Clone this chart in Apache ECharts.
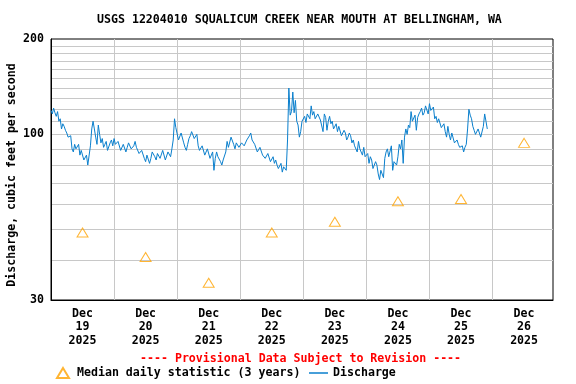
<!DOCTYPE html>
<html><head><meta charset="utf-8">
<script src="https://cdn.jsdelivr.net/npm/echarts@6/dist/echarts.min.js"></script>
<style>html,body{margin:0;padding:0;background:#fff}#c{width:576px;height:384px}</style>
</head><body><div id="c"></div>
<script>
const titleText = 'USGS 12204010 SQUALICUM CREEK NEAR MOUTH AT BELLINGHAM, WA';
const yAxisName = 'Discharge, cubic feet per second';
const provisionalText = '---- Provisional Data Subject to Revision ----';
const medianName = 'Median daily statistic (3 years)';
const dischargeName = 'Discharge';

// Discharge readings every 30 minutes starting 2025-12-19 00:00 (one row per 6 hours)
const dischargeStart = '2025-12-19T00:00:00Z';
const dischargeStepMinutes = 30;
const dischargeValues = [
  // Dec 19
  119,116,121,117,114,118,110,112,104,108,106,103,
  101,98,97,99,90,88,93,90,91,93,86,89,
  88,83,83,86,80,79,92,104,110,104,98,93,
  107,100,94,97,91,93,95,89,90,94,96,92,
  // Dec 20
  97,93,92,95,95,89,90,93,93,88,91,94,
  94,90,89,92,95,91,90,87,86,89,88,84,
  82,86,87,81,84,88,89,85,83,87,88,84,
  85,89,89,83,84,88,87,85,90,96,112,105,
  // Dec 21
  104,96,97,101,100,94,91,89,93,97,99,102,
  102,97,98,100,92,89,88,92,91,86,87,90,
  90,84,85,88,77,84,88,85,86,82,80,83,
  82,88,95,91,92,98,97,93,90,94,95,91,
  // Dec 22
  91,94,95,92,93,96,96,99,101,96,97,93,
  92,88,89,91,91,86,87,84,84,87,87,82,
  83,85,81,83,80,78,78,81,76,79,80,77,
  96,140,115,118,136,117,128,110,107,98,102,110,
  // Dec 23
  111,114,109,116,116,112,123,115,118,112,113,116,
  115,111,111,102,116,113,103,110,114,108,110,104,
  105,108,102,106,106,99,99,103,101,96,98,101,
  99,94,96,92,92,88,95,90,89,86,91,85,
  // Dec 24
  84,87,81,85,83,78,77,82,80,75,72,77,
  78,73,84,88,90,85,86,92,77,82,82,80,
  85,93,90,96,81,98,104,100,107,105,118,110,
  110,115,103,113,116,118,121,115,117,123,122,116,
  // Dec 25
  125,119,118,122,112,114,109,112,111,105,105,108,
  102,98,106,100,96,101,100,94,94,96,93,91,
  90,92,88,91,93,104,120,115,112,106,103,100,
  100,104,103,98,99,106,116,110,104
];

const medianDays = ['2025-12-19','2025-12-20','2025-12-21','2025-12-22','2025-12-23','2025-12-24','2025-12-25','2025-12-26'];
const medianValues = [49, 41, 34, 49, 53, 61.5, 62.5, 94];

const yLabelValues = [30, 100, 200];
const yGridValues = [40,50,60,70,80,90,100,110,120,130,140,150,160,170,180,190];
const xGridDays = ['2025-12-20','2025-12-21','2025-12-22','2025-12-23','2025-12-24','2025-12-25','2025-12-26'];
const xMinDay = '2025-12-19T00:00:00Z';
const xMaxTime = '2025-12-26T23:00:00Z';

const MONTHS = ['Jan','Feb','Mar','Apr','May','Jun','Jul','Aug','Sep','Oct','Nov','Dec'];
const t0 = Date.parse(dischargeStart);
const dischargeData = dischargeValues.map((v, i) => [t0 + i * dischargeStepMinutes * 60000, v]);
const noon = d => Date.parse(d + 'T12:00:00Z');
const midnight = d => Date.parse(d + 'T00:00:00Z');
const medianData = medianDays.map((d, i) => [noon(d), medianValues[i]]);

const FONT = '"DejaVu Sans Mono", "Liberation Mono", monospace';
const BLUE = '#0a7fcd';

const chart = echarts.init(document.getElementById('c'), null, {renderer: 'canvas'});
chart.setOption({
  animation: false,
  backgroundColor: '#fff',
  textStyle: {fontFamily: FONT},
  title: [
    {text: titleText, left: 92, top: 9,
     textStyle: {fontFamily: FONT, fontWeight: 'bold', fontSize: 11.6, color: '#000'}},
    {text: provisionalText, left: 135, top: 348,
     textStyle: {fontFamily: FONT, fontWeight: 'bold', fontSize: 11.6, color: '#ff0000'}}
  ],
  legend: [
    {data: [medianName], left: 51, top: 362, itemWidth: 12, itemHeight: 10, itemGap: 6,
     textStyle: {fontFamily: FONT, fontWeight: 'bold', fontSize: 11.6, color: '#000', padding: [0, 0, 0, 3]}},
    {data: [{name: dischargeName, icon: 'rect', itemStyle: {color: BLUE}}], left: 304, top: 362, itemWidth: 19, itemHeight: 1.5, itemGap: 6,
     textStyle: {fontFamily: FONT, fontWeight: 'bold', fontSize: 11.6, color: '#000'}}
  ],
  grid: {left: 51, top: 39, width: 502, height: 261, show: true, borderColor: '#000', borderWidth: 1,
         containLabel: false, outerBoundsMode: 'none'},
  xAxis: {
    type: 'value',
    min: Date.parse(xMinDay),
    max: Date.parse(xMaxTime),
    axisLine: {show: true, lineStyle: {color: '#000', width: 1}},
    axisTick: {show: false, customValues: xGridDays.map(midnight)},
    splitLine: {show: true, lineStyle: {color: '#c8c8c8', width: 1}},
    axisLabel: {
      customValues: medianDays.map(noon),
      margin: 7,
      fontFamily: FONT, fontWeight: 'bold', fontSize: 11.6, color: '#000', lineHeight: 13.5,
      formatter: v => { const d = new Date(v); return MONTHS[d.getUTCMonth()] + '\n' + d.getUTCDate() + '\n' + d.getUTCFullYear(); }
    }
  },
  yAxis: {
    type: 'log', logBase: 10, min: 30, max: 200,
    name: yAxisName, nameLocation: 'middle', nameRotate: 90, nameGap: 33, nameMoveOverlap: false,
    nameTextStyle: {fontFamily: FONT, fontWeight: 'bold', fontSize: 11.6, color: '#000', padding: [0, 11, 0, 0]},
    axisLine: {show: true, lineStyle: {color: '#000', width: 1}},
    axisTick: {show: false, customValues: yGridValues},
    splitLine: {show: true, lineStyle: {color: '#c8c8c8', width: 1}},
    axisLabel: {customValues: yLabelValues, margin: 7, fontFamily: FONT, fontWeight: 'bold', fontSize: 11.6, color: '#000',
      formatter: v => String(Math.round(v))}
  },
  series: [
    {name: dischargeName, type: 'line', data: dischargeData, showSymbol: false, symbol: 'none',
     lineStyle: {color: BLUE, width: 1}, itemStyle: {color: BLUE}, z: 3},
    {name: medianName, type: 'scatter', data: medianData, symbol: 'triangle', symbolSize: [11, 9],
     itemStyle: {color: 'rgba(255,255,255,0)', borderColor: '#ffa200', borderWidth: 1}, z: 4}
  ]
});
</script></body></html>
